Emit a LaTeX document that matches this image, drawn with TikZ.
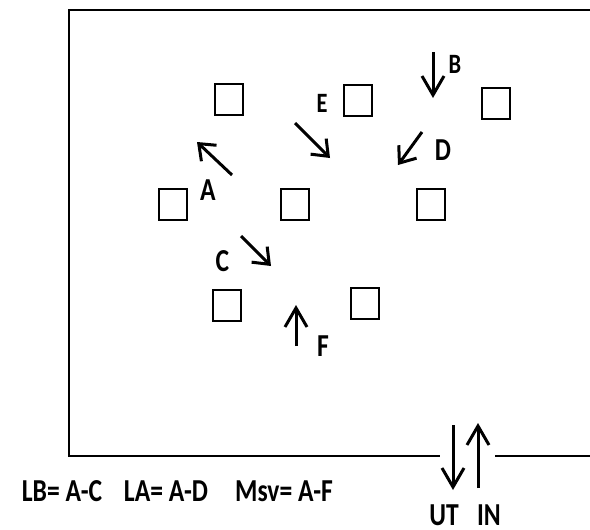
\documentclass[tikz,border=0pt]{standalone}
\usepackage{fontspec}
\usepackage{graphicx}
\setmainfont{Carlito}
\usetikzlibrary{arrows.meta}
\newcommand{\sqz}[1]{\scalebox{0.8}[1]{#1}}
\begin{document}
\begin{tikzpicture}[x=1pt,y=-1pt,
  box/.style={draw,line width=2pt,minimum width=28pt,minimum height=31pt,inner sep=0pt},
  lab/.style={font=\fontsize{32}{32}\selectfont\bfseries,inner sep=0pt},
  slab/.style={font=\fontsize{28}{28}\selectfont\bfseries,inner sep=0pt},
  darr/.style={line width=3pt,-{Straight Barb[length=14pt,width=22pt,line width=3pt]}},
  varr/.style={line width=3pt,-{Straight Barb[length=19pt,width=22pt,line width=3pt]}},
  frame/.style={line width=2pt}]
\useasboundingbox (0,0) rectangle (590,530);
% frame
\coordinate (tr) at (590,10);
\coordinate (tl) at (69,10);
\coordinate (bl) at (69,456);
\coordinate (bg1) at (440,456);
\coordinate (bg2) at (495,456);
\coordinate (br) at (590,456);
\draw[frame] (tr) -- (tl) -- (bl) -- (bg1);
\draw[frame] (bg2) -- (br);
% squares
\node[box] (s1) at (229,99.5) {};
\node[box] (s2) at (357.5,100.5) {};
\node[box] (s3) at (495.5,103) {};
\node[box] (s4) at (172.5,204.5) {};
\node[box] (s5) at (295,204.5) {};
\node[box] (s6) at (430.5,204.5) {};
\node[box] (s7) at (227,305) {};
\node[box] (s8) at (365,303.5) {};
% arrows
\coordinate (a0) at (232,175); \coordinate (a1) at (197,142);
\coordinate (e0) at (295,123); \coordinate (e1) at (330,158);
\coordinate (d0) at (422,132); \coordinate (d1) at (398,165);
\coordinate (b0) at (433,52);  \coordinate (b1) at (433,98);
\coordinate (c0) at (241,236); \coordinate (c1) at (271,266);
\coordinate (f0) at (296,346); \coordinate (f1) at (296,305);
\coordinate (u0) at (453,425); \coordinate (u1) at (453,490);
\coordinate (i0) at (478,488); \coordinate (i1) at (478,423);
\draw[darr] (a0) -- (a1);
\draw[darr] (e0) -- (e1);
\draw[darr] (d0) -- (d1);
\draw[varr] (b0) -- (b1);
\draw[darr] (c0) -- (c1);
\draw[varr] (f0) -- (f1);
\draw[varr] (u0) -- (u1);
\draw[varr] (i0) -- (i1);
% labels
\node[slab] (le) at (322,103) {\sqz{E}};
\node[lab] (la) at (208,190) {\sqz{A}};
\node[lab] (ld) at (443,150) {\sqz{D}};
\node[slab] (lb) at (455,64) {\sqz{B}};
\node[lab] (lc) at (222.5,261) {\sqz{C}};
\node[lab] (lf) at (323,346) {\sqz{F}};
\node[lab] (t1) at (62,491) {\sqz{LB= A-C}};
\node[lab] (t2) at (166,491) {\sqz{LA= A-D}};
\node[lab] (t3) at (284,491) {\sqz{Msv= A-F}};
\node[lab] (ut) at (444,515) {\sqz{UT}};
\node[lab] (in) at (489,515) {\sqz{IN}};
\end{tikzpicture}
\end{document}
